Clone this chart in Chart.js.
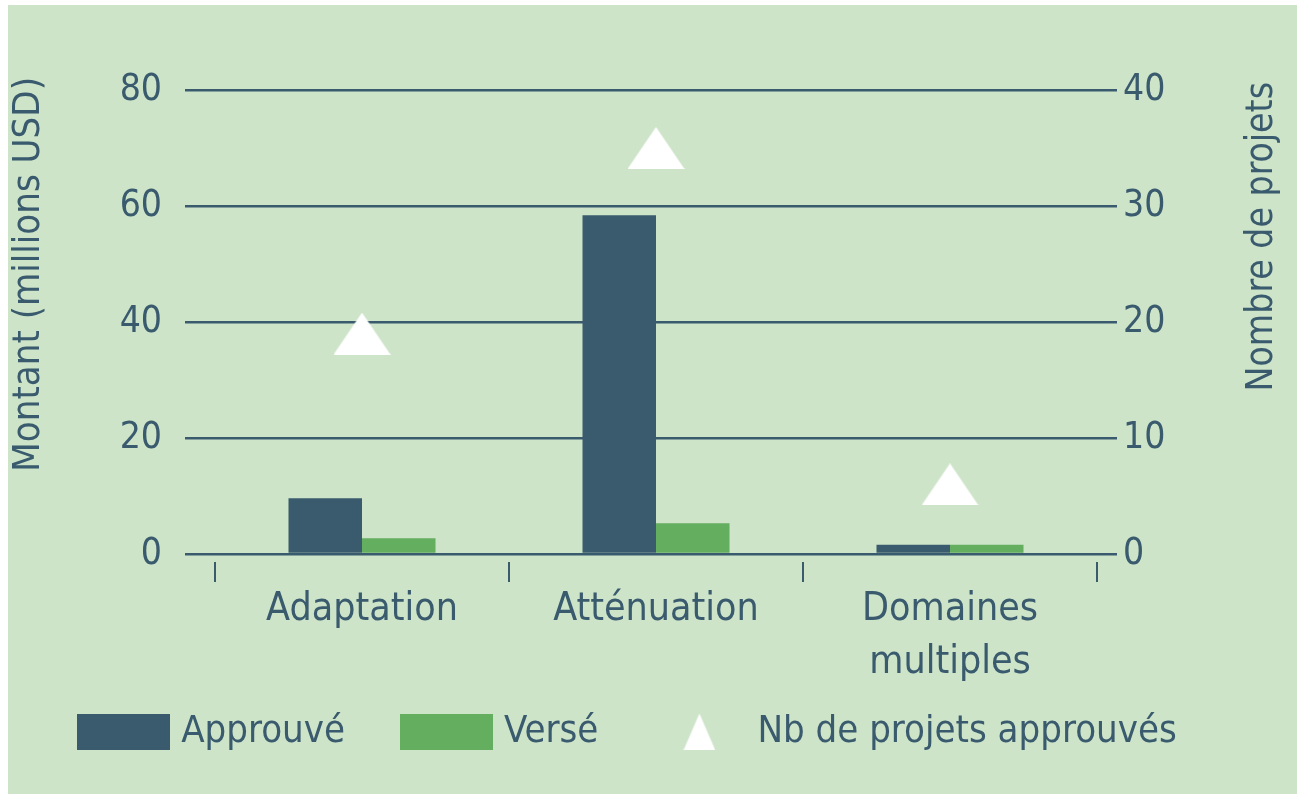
<!DOCTYPE html>
<html>
<head>
<meta charset="utf-8">
<script src="https://cdn.jsdelivr.net/npm/chart.js@4"></script>
<style>
  html, body { margin: 0; padding: 0; background: #ffffff; }
  #wrap {
    position: absolute; left: 8px; top: 5px;
    width: 1289px; height: 789px;
    background: #cde4c9;
  }
</style>
</head>
<body>
<div id="wrap"><canvas id="fundsChart" width="1289" height="789"></canvas></div>
<script>
// === Data ===
const categories = ['Adaptation', 'Atténuation', ['Domaines', 'multiples']];
const approuve = [9.6, 58.4, 1.6];
const verse = [2.7, 5.3, 1.6];
const nbProjets = [19, 35, 6];
const leftTicks = [0, 20, 40, 60, 80];
const rightTicks = [0, 10, 20, 30, 40];
const leftTitle = 'Montant (millions USD)';
const rightTitle = 'Nombre de projets';

const DARK = '#3a5b6d';
const GREEN = '#63ae5f';
const INK = '#3a5a6e';
const FONT = "'DejaVu Sans Condensed', 'DejaVu Sans', sans-serif";

// little canvases used as point / legend markers
function marker(w, h, color, shape) {
  const c = document.createElement('canvas');
  c.width = w; c.height = h;
  const g = c.getContext('2d');
  g.fillStyle = color;
  if (shape === 'tri') {
    g.beginPath();
    g.moveTo(w / 2, 0);
    g.lineTo(w, h);
    g.lineTo(0, h);
    g.closePath();
    g.fill();
  } else {
    g.fillRect(0, 0, w, h);
  }
  return c;
}
const plotTri = marker(57, 42, '#ffffff', 'tri');
const legendMarks = [
  marker(93, 37, DARK, 'rect'),
  marker(93, 37, GREEN, 'rect'),
  marker(32, 37, '#ffffff', 'tri')
];

// both axis titles read bottom-to-top, top aligned just above the plot
const axisTitles = {
  id: 'axisTitles',
  afterLayout(chart) {
    // legend sits a bit higher / further left than the default box
    const lg = chart.legend;
    lg.top -= 34; lg.bottom -= 34;
    lg.left -= 22; lg.right -= 22;
  },
  afterDraw(chart) {
    const { ctx, chartArea, scales } = chart;
    ctx.save();
    ctx.fillStyle = INK;
    ctx.textBaseline = 'middle';
    ctx.textAlign = 'right';
    ctx.font = '38px ' + FONT;
    ctx.translate(scales.y.left + 21, chartArea.top - 13);
    ctx.rotate(-Math.PI / 2);
    ctx.fillText(leftTitle, 0, 0);
    ctx.restore();

    ctx.save();
    ctx.fillStyle = INK;
    ctx.textBaseline = 'middle';
    ctx.textAlign = 'right';
    ctx.font = '37px ' + FONT;
    ctx.translate(scales.y1.right - 35, chartArea.top - 8);
    ctx.rotate(-Math.PI / 2);
    ctx.fillText(rightTitle, 0, 0);
    ctx.restore();
  }
};

Chart.defaults.font.family = FONT;
Chart.defaults.font.size = 37;
Chart.defaults.color = INK;

const ctx = document.getElementById('fundsChart').getContext('2d');
const fundsChart = new Chart(ctx, {
  type: 'bar',
  data: {
    labels: categories,
    datasets: [{
      label: 'Approuvé',
      data: approuve,
      backgroundColor: DARK,
      categoryPercentage: 0.5,
      barPercentage: 1.0,
      yAxisID: 'y'
    }, {
      label: 'Versé',
      data: verse,
      backgroundColor: GREEN,
      categoryPercentage: 0.5,
      barPercentage: 1.0,
      yAxisID: 'y'
    }, {
      type: 'line',
      label: 'Nb de projets approuvés',
      data: nbProjets,
      showLine: false,
      pointStyle: plotTri,
      pointRadius: 20,
      backgroundColor: '#ffffff',
      borderColor: '#ffffff',
      yAxisID: 'y1'
    }]
  },
  plugins: [axisTitles],
  options: {
    responsive: false,
    animation: false,
    layout: { padding: { left: 0, right: 0, top: 85, bottom: 10 } },
    plugins: {
      tooltip: { enabled: false },
      legend: {
        position: 'bottom',
        align: 'center',
        maxHeight: 99,
        labels: {
          usePointStyle: true,
          pointStyleWidth: 78,
          boxHeight: 37,
          padding: 62,
          font: { size: 38 },
          color: INK,
          generateLabels: (chart) => {
            const items = Chart.defaults.plugins.legend.labels.generateLabels(chart);
            items.forEach(it => {
              it.pointStyle = legendMarks[it.datasetIndex];
              it.lineWidth = 0;
            });
            return items;
          }
        }
      }
    },
    scales: {
      x: {
        grid: {
          offset: true,
          drawOnChartArea: false,
          color: INK,
          lineWidth: 2,
          tickLength: 28,
          tickBorderDash: [0, 8, 20, 1000]
        },
        border: { display: false },
        ticks: { padding: 2, font: { size: 39, lineHeight: 1.35 }, color: INK },
        afterFit: (scale) => { scale.height = 131; }
      },
      y: {
        position: 'left',
        min: 0, max: 80,
        afterBuildTicks: (scale) => { scale.ticks = leftTicks.map(v => ({ value: v })); },
        grid: { color: INK, lineWidth: 2.5, tickLength: 30 },
        border: { display: false },
        ticks: { padding: 23, color: INK },
        afterFit: (scale) => { scale.width = 207; }
      },
      y1: {
        position: 'right',
        min: 0, max: 40,
        afterBuildTicks: (scale) => { scale.ticks = rightTicks.map(v => ({ value: v })); },
        grid: { drawOnChartArea: false, color: INK, lineWidth: 2.5, tickLength: 20 },
        border: { display: false },
        ticks: { padding: 6, color: INK },
        afterFit: (scale) => { scale.width = 200; }
      }
    }
  }
});
</script>
</body>
</html>
